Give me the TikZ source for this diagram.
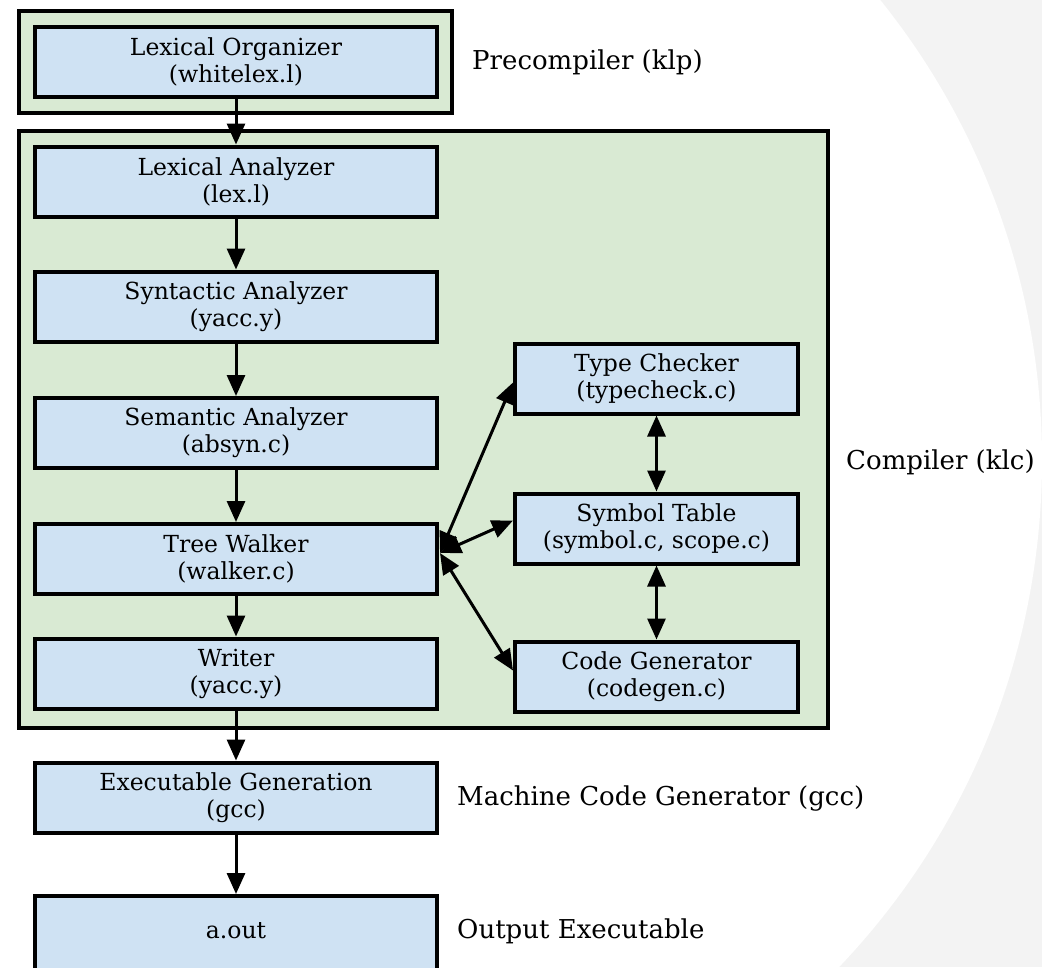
\documentclass[tikz,border=0pt]{standalone}
\usepackage{fontspec}
\setmainfont{DejaVu Serif}
\usetikzlibrary{arrows.meta}
\definecolor{boxblue}{HTML}{CFE2F3}
\definecolor{grpgreen}{HTML}{D9EAD3}
\definecolor{bggray}{HTML}{F3F3F3}
\begin{document}
\begin{tikzpicture}[x=1pt,y=-1pt,
  txt/.style={font=\fontsize{23.5}{27}\selectfont},
  stage/.style={txt, draw=black, line width=4pt, fill=boxblue, align=center, inner sep=0pt},
  leftstage/.style={stage, minimum width=402pt, minimum height=70pt},
  rightstage/.style={stage, minimum width=283pt, minimum height=70pt},
  group/.style={draw=black, line width=4pt, fill=grpgreen},
  tip/.tip={Triangle[length=21pt,width=18pt]},
  flow/.style={line width=3pt, -tip},
  both/.style={line width=3pt, tip-tip},
  lbl/.style={font=\fontsize{26}{30}\selectfont, anchor=west, inner sep=0pt}]
\path[use as bounding box] (0,0) rectangle (1042,967);
\begin{scope}
\clip (0,0) rectangle (1042,967);
\fill[bggray] (0,0) rectangle (1042,967);
\fill[white] (307,460) circle[radius=735pt];

% groups
\draw[group] (19,11) rectangle (452,113);
\draw[group] (19,131) rectangle (828,728);

% left column
\node[leftstage] (lo) at (236,62) {Lexical Organizer\\(whitelex.l)};
\node[leftstage] (la) at (236,181.5) {Lexical Analyzer\\(lex.l)};
\node[leftstage] (syn) at (236,306.5) {Syntactic Analyzer\\(yacc.y)};
\node[leftstage] (sem) at (236,433) {Semantic Analyzer\\(absyn.c)};
\node[leftstage] (tw) at (236,559) {Tree Walker\\(walker.c)};
\node[leftstage] (wr) at (236,673.5) {Writer\\(yacc.y)};
\node[leftstage] (ex) at (236,797.5) {Executable Generation\\(gcc)};
\node[leftstage, minimum height=78pt] (aout) at (236,935) {\raisebox{4pt}[\height][\depth]{a.out}};

% right column
\node[rightstage] (tc) at (656.5,378.5) {Type Checker\\(typecheck.c)};
\node[rightstage] (st) at (656.5,528.5) {Symbol Table\\(symbol.c, scope.c)};
\node[rightstage] (cg) at (656.5,676.5) {Code Generator\\(codegen.c)};

% labels
\node[lbl] (l1) at (472,62) {Precompiler (klp)};
\node[lbl] (l2) at (846,462) {Compiler (klc)};
\node[lbl] (l3) at (457,798) {Machine Code Generator (gcc)};
\node[lbl] (l4) at (457,931) {Output Executable};

% flow arrows
\draw[flow] (lo) -- (la);
\draw[flow] (la) -- (syn);
\draw[flow] (syn) -- (sem);
\draw[flow] (sem) -- (tw);
\draw[flow] (tw) -- (wr);
\draw[flow] (wr) -- (ex);
\draw[flow] (ex) -- (aout);

% double arrows
\draw[both] ([xshift=1pt,yshift=6pt]tw.east) -- ([yshift=-4pt]tc.west);
\draw[both] ([xshift=1pt,yshift=6pt]tw.east) -- ([yshift=8pt]st.west);
\draw[both] ([xshift=1pt,yshift=6pt]tw.east) -- ([yshift=6pt]cg.west);
\draw[both] (tc) -- (st);
\draw[both] (st) -- (cg);
\end{scope}
\end{tikzpicture}
\end{document}
